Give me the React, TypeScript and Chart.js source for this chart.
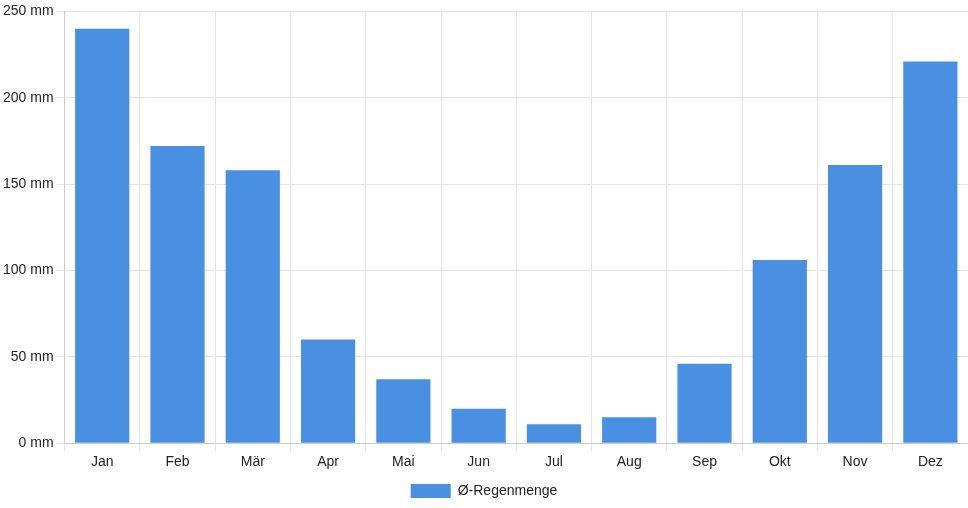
import React, { useEffect, useRef } from "react";
import { Chart, registerables } from "chart.js";

Chart.register(...registerables);

const months = ["Jan", "Feb", "Mär", "Apr", "Mai", "Jun", "Jul", "Aug", "Sep", "Okt", "Nov", "Dez"];
const rainfall = [240, 172, 158, 60, 37, 20, 11, 15, 46, 106, 161, 221];
const seriesLabel = "Ø-Regenmenge";

export default function App() {
  const ref = useRef<HTMLCanvasElement | null>(null);

  useEffect(() => {
    document.body.style.margin = "0";
    const ctx = ref.current!;
    const chart = new Chart(ctx, {
      type: "bar",
      data: {
        labels: months,
        datasets: [
          {
            label: seriesLabel,
            data: rainfall,
            backgroundColor: "#4a90e2",
            borderColor: "#4a90e2",
            borderWidth: 0,
          },
        ],
      },
      options: {
        animation: false,
        responsive: false,
        maintainAspectRatio: false,
        layout: { padding: { top: 4, right: 0, left: 0, bottom: 0 } },
        font: { family: "'Liberation Sans', Arial, sans-serif", size: 14 } as any,
        plugins: {
          legend: {
            position: "bottom",
            labels: {
              color: "#222",
              font: { family: "'Liberation Sans', Arial, sans-serif", size: 14 },
              boxWidth: 40,
              boxHeight: 14,
            },
          },
          tooltip: { enabled: false },
        },
        scales: {
          x: {
            grid: { color: "#e4e4e4", offset: true },
            border: { color: "#cccccc" },
            ticks: {
              color: "#222",
              font: { family: "'Liberation Sans', Arial, sans-serif", size: 14 },
            },
          },
          y: {
            min: 0,
            max: 250,
            grid: { color: "#e4e4e4" },
            border: { color: "#cccccc" },
            ticks: {
              stepSize: 50,
              color: "#222",
              font: { family: "'Liberation Sans', Arial, sans-serif", size: 14 },
              callback: (v: any) => `${v} mm`,
            },
          },
        },
      },
    });
    return () => chart.destroy();
  }, []);

  return (
    <div style={{ width: 968, height: 508 }}>
      <canvas ref={ref} width={968} height={508} style={{ display: "block" }} />
    </div>
  );
}
